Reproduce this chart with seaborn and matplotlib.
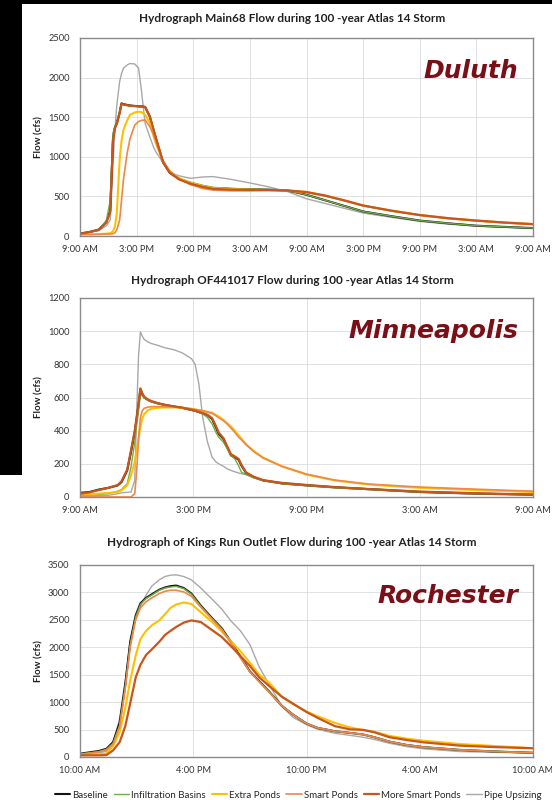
import matplotlib
matplotlib.use("Agg")
import matplotlib.pyplot as plt
from matplotlib.patches import Rectangle
import seaborn as sns

# ---- data (hours from start of plot, flow in cfs) ----
series_names = ["Baseline", "Infiltration Basins", "Extra Ponds", "Smart Ponds",
                "More Smart Ponds", "Pipe Upsizing"]
colors = {"Baseline": "#141414", "Infiltration Basins": "#70AD47", "Extra Ponds": "#FFC000",
          "Smart Ponds": "#EE8748", "More Smart Ponds": "#C8561A", "Pipe Upsizing": "#A8A8A8"}
widths = {"Baseline": 1.5, "Infiltration Basins": 1.0, "Extra Ponds": 1.5,
          "Smart Ponds": 1.2, "More Smart Ponds": 1.6, "Pipe Upsizing": 1.0}

# Duluth
hours1 = [0, 1, 2, 2.8, 3.2, 3.5, 3.7, 3.9, 4.2, 4.4, 4.6, 5.0, 5.3, 5.8, 6.2, 6.5, 6.9, 7.4, 7.8, 8.1,
          8.8, 9.5, 10.5, 11.7, 13, 14.1, 16, 18, 20, 22, 24, 26, 28, 30, 33, 36, 39, 42, 45, 48]
base1 = [30, 50, 80, 180, 320, 1250, 1370, 1420, 1560, 1675, 1665, 1655, 1648, 1642, 1638, 1636, 1630, 1507, 1330, 1210,
         930, 800, 720, 668, 630, 605, 595, 590, 585, 575, 520, 450, 380, 310, 250, 195, 160, 130, 115, 100]
infil1 = [30, 45, 70, 200, 450, 1300, 1380, 1430, 1560, 1670, 1660, 1650, 1645, 1640, 1635, 1632, 1625, 1500, 1320, 1200,
          930, 810, 730, 680, 640, 615, 600, 592, 585, 575, 520, 450, 380, 310, 250, 195, 160, 130, 115, 100]
extra1 = [20, 20, 25, 30, 35, 60, 120, 290, 960, 1200, 1340, 1460, 1530, 1560, 1570, 1565, 1530, 1430, 1260, 1150,
          940, 820, 730, 670, 630, 605, 590, 585, 580, 575, 555, 510, 450, 385, 320, 265, 225, 195, 170, 150]
smart1 = [20, 20, 20, 25, 25, 30, 40, 80, 200, 450, 707, 1050, 1230, 1400, 1445, 1460, 1465, 1380, 1280, 1170,
          950, 820, 720, 650, 600, 580, 570, 570, 575, 570, 550, 505, 445, 380, 315, 260, 220, 190, 165, 145]
more1 = [30, 50, 80, 170, 300, 1200, 1360, 1420, 1550, 1670, 1660, 1650, 1643, 1640, 1636, 1634, 1628, 1510, 1340, 1215,
         935, 800, 715, 660, 620, 595, 585, 582, 580, 575, 555, 510, 450, 385, 320, 265, 225, 195, 170, 150]
pipe1 = [30, 50, 70, 130, 200, 900, 1340, 1650, 1950, 2050, 2118, 2160, 2178, 2172, 2120, 1850, 1420, 1250, 1120, 1050,
         930, 800, 760, 728, 745, 750, 715, 670, 620, 560, 470, 410, 350, 290, 235, 185, 150, 125, 110, 95]
ticks1 = ["9:00 AM", "3:00 PM", "9:00 PM", "3:00 AM", "9:00 AM", "3:00 PM", "9:00 PM", "3:00 AM", "9:00 AM"]

# Minneapolis
hours2 = [0, 0.5, 1, 1.5, 2, 2.2, 2.5, 2.7, 2.9, 3.0, 3.1, 3.2, 3.3, 3.4, 3.6, 3.8, 4.1, 4.5, 5.0, 5.4,
          5.9, 6.1, 6.3, 6.5, 6.75, 7.0, 7.2, 7.35, 7.6, 7.8, 8.0, 8.2, 8.4, 8.55, 8.8, 9.2, 9.7, 10.7, 12, 13.5,
          15.3, 18, 21, 24]
base2 = [25, 30, 45, 55, 70, 90, 160, 270, 390, 470, 555, 650, 620, 600, 585, 575, 565, 555, 545, 538,
         525, 520, 512, 505, 494, 470, 420, 380, 350, 300, 250, 240, 225, 190, 145, 120, 100, 82, 70, 58,
         47, 30, 20, 14]
infil2 = [10, 12, 15, 20, 35, 45, 80, 180, 330, 430, 520, 610, 615, 598, 583, 573, 563, 553, 543, 536,
          523, 518, 510, 500, 480, 440, 390, 360, 330, 290, 250, 230, 190, 150, 135, 115, 98, 80, 68, 56,
          45, 30, 20, 14]
extra2 = [15, 18, 20, 25, 30, 40, 70, 130, 210, 280, 350, 420, 474, 500, 524, 532, 538, 540, 540, 538,
          532, 528, 524, 520, 514, 508, 495, 485, 465, 445, 425, 400, 372, 352, 318, 278, 238, 185, 135, 100,
          75, 55, 42, 30]
smart2 = [0, 0, 0, 0, 0, 0, 0, 0, 20, 150, 350, 480, 520, 535, 542, 545, 545, 545, 543, 540,
          532, 528, 524, 520, 512, 505, 490, 478, 460, 440, 415, 390, 362, 345, 315, 275, 235, 185, 138, 102,
          78, 60, 47, 35]
more2 = [20, 28, 42, 55, 72, 95, 165, 280, 400, 480, 560, 655, 625, 605, 588, 578, 567, 556, 546, 539,
         526, 521, 513, 506, 496, 475, 428, 388, 355, 305, 258, 245, 230, 195, 148, 122, 102, 84, 72, 60,
         48, 32, 22, 15]
pipe2 = [5, 5, 8, 10, 20, 25, 28, 30, 100, 500, 850, 995, 970, 950, 935, 925, 915, 900, 887, 870,
         835, 800, 680, 480, 333, 240, 212, 200, 185, 170, 160, 152, 145, 140, 135, 118, 100, 88, 75, 60,
         50, 35, 25, 15]
ticks2 = ["9:00 AM", "3:00 PM", "9:00 PM", "3:00 AM", "9:00 AM"]

# Rochester
hours3 = [0, 1, 1.4, 1.75, 2.1, 2.4, 2.66, 2.95, 3.2, 3.5, 3.8, 4.2, 4.5, 4.8, 5.1, 5.5, 5.9, 6.4, 7.0, 7.5,
          8.0, 8.5, 9.0, 9.5, 10.0, 10.7, 11.3, 12.0, 12.6, 13.5, 14.3, 15.0, 15.6, 16.4, 17.3, 18.2, 20.1, 22, 24]
base3 = [60, 110, 150, 270, 620, 1330, 2100, 2580, 2800, 2900, 2965, 3050, 3090, 3115, 3125, 3080, 2980, 2760, 2530, 2350,
         2100, 1830, 1560, 1380, 1200, 930, 770, 610, 530, 470, 440, 410, 360, 280, 220, 180, 130, 100, 77]
infil3 = [55, 100, 140, 250, 580, 1280, 2050, 2550, 2780, 2890, 2950, 3040, 3080, 3100, 3110, 3070, 2970, 2750, 2520, 2340,
          2090, 1820, 1555, 1375, 1195, 930, 770, 610, 530, 470, 440, 410, 360, 280, 220, 180, 130, 100, 77]
extra3 = [40, 50, 60, 200, 450, 900, 1394, 1850, 2150, 2300, 2400, 2490, 2600, 2720, 2780, 2817, 2790, 2640, 2460, 2290,
          2110, 1927, 1720, 1500, 1364, 1097, 960, 830, 741, 623, 540, 490, 460, 385, 335, 297, 237, 200, 160]
smart3 = [50, 90, 130, 230, 550, 1250, 2000, 2500, 2720, 2830, 2900, 2980, 3020, 3040, 3040, 3010, 2930, 2730, 2510, 2330,
          2080, 1810, 1550, 1370, 1190, 930, 770, 610, 530, 470, 440, 410, 360, 280, 220, 180, 130, 100, 77]
more3 = [30, 30, 35, 120, 270, 563, 978, 1450, 1680, 1860, 1960, 2100, 2224, 2300, 2372, 2450, 2490, 2460, 2313, 2190,
         2020, 1840, 1660, 1450, 1300, 1097, 970, 820, 712, 563, 504, 495, 450, 360, 310, 267, 208, 180, 160]
pipe3 = [50, 80, 100, 250, 700, 1400, 2105, 2550, 2760, 2950, 3113, 3230, 3290, 3315, 3320, 3290, 3230, 3080, 2876, 2700,
         2480, 2300, 2050, 1640, 1334, 920, 720, 590, 504, 433, 395, 360, 320, 250, 190, 150, 100, 85, 75]
ticks3 = ["10:00 AM", "4:00 PM", "10:00 PM", "4:00 AM", "10:00 AM"]

titles = ["Hydrograph Main68 Flow during 100 -year Atlas 14 Storm",
          "Hydrograph OF441017 Flow during 100 -year Atlas 14 Storm",
          "Hydrograph of Kings Run Outlet Flow during 100 -year Atlas 14 Storm"]
cities = ["Duluth", "Minneapolis", "Rochester"]

panels = [
    (hours1, [base1, infil1, extra1, smart1, more1, pipe1], ticks1, 2500, 500),
    (hours2, [base2, infil2, extra2, smart2, more2, pipe2], ticks2, 1200, 200),
    (hours3, [base3, infil3, extra3, smart3, more3, pipe3], ticks3, 3500, 500),
]

sns.set_theme(style="whitegrid")
plt.rcParams["font.family"] = ["Lato", "DejaVu Sans"]

fig = plt.figure(figsize=(5.52, 8.0), dpi=100)
fig.patch.set_facecolor("white")
# black slide background showing at the top and left
fig.patches.append(Rectangle((0, 1 - 475 / 800), 22 / 552, 475 / 800, transform=fig.transFigure,
                             facecolor="black", edgecolor="none", zorder=0))
fig.patches.append(Rectangle((0, 1 - 4 / 800), 1, 4 / 800, transform=fig.transFigure,
                             facecolor="black", edgecolor="none", zorder=0))

boxes = [[80 / 552, 1 - 236 / 800, 453 / 552, 198 / 800],
         [80 / 552, 1 - 497 / 800, 453 / 552, 199 / 800],
         [80 / 552, 1 - 757 / 800, 453 / 552, 192 / 800]]
title_y = [18, 281, 543]

draw_order = [5, 0, 1, 2, 3, 4]
for i, (hrs, vals, xt, ymax, ystep) in enumerate(panels):
    ax = fig.add_axes(boxes[i])
    for k in draw_order:
        name = series_names[k]
        sns.lineplot(x=hrs, y=vals[k], ax=ax, color=colors[name], lw=widths[name],
                     label=name, legend=False)
    span = 6 * (len(xt) - 1)
    ax.set_xlim(0, span)
    ax.set_ylim(0, ymax)
    ax.set_xticks(range(0, span + 1, 6))
    ax.set_xticklabels(xt)
    ax.set_yticks(range(0, ymax + 1, ystep))
    ax.grid(True, color="#dcdcdc", lw=0.6)
    for s in ax.spines.values():
        s.set_visible(True)
        s.set_color("#8a8a8a")
        s.set_linewidth(1.0)
    ax.tick_params(axis="both", labelsize=6.7, labelcolor="#333333", color="#8a8a8a",
                   length=3, width=0.6, direction="inout")
    ax.tick_params(axis="x", pad=5)
    ax.tick_params(axis="y", pad=6)
    ax.set_ylabel("Flow (cfs)", fontsize=7, fontweight="bold", color="#222222")
    ax.yaxis.set_label_coords(-0.08, 0.5)
    ax.text(0.967, 0.80, cities[i], transform=ax.transAxes, ha="right", va="baseline",
            fontsize=18, fontweight="bold", fontstyle="italic", color="#7A0F17",
            family="DejaVu Sans")
    fig.text(292 / 552, 1 - title_y[i] / 800, titles[i], ha="center", va="center",
             fontsize=8.5, fontweight="bold", color="#222222")

handles, labels = ax.get_legend_handles_labels()
order = [labels.index(n) for n in series_names]
fig.legend([handles[j] for j in order], [labels[j] for j in order], loc="center",
           bbox_to_anchor=(298 / 552, 1 - 795 / 800), ncol=6, frameon=False, fontsize=7,
           handlelength=1.6, handletextpad=0.2, columnspacing=0.6, borderaxespad=0)

fig.savefig("out.png", dpi=100, facecolor="white")
